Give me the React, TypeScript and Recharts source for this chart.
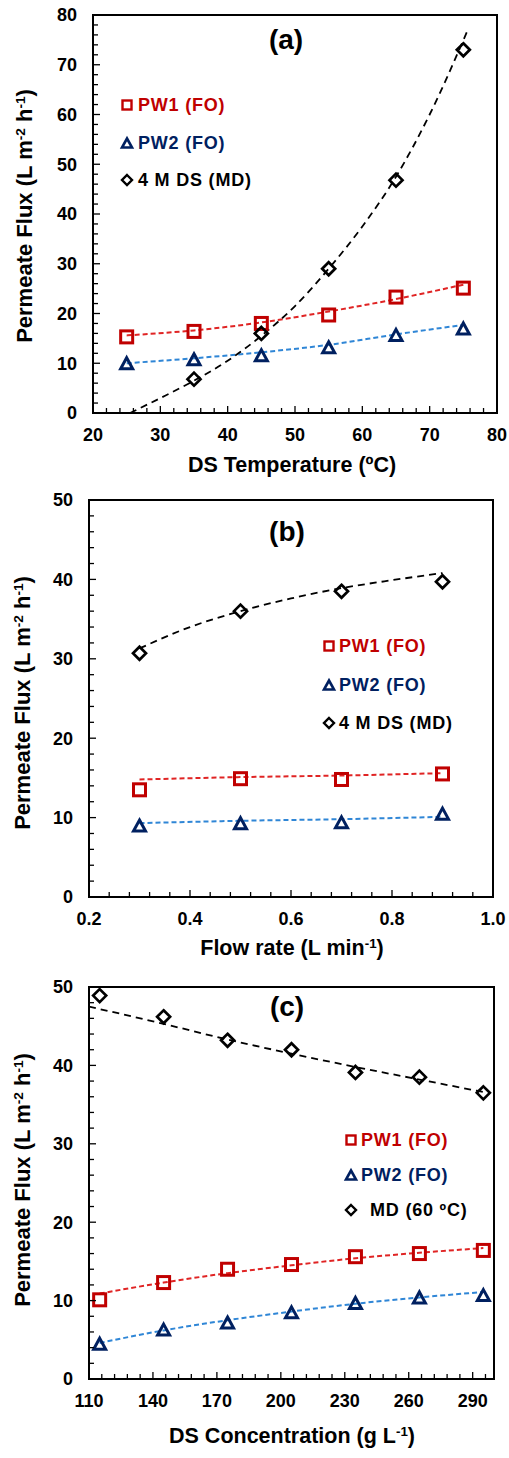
import React from 'react'
import {
  ComposedChart, Line, Scatter, XAxis, YAxis, ReferenceArea,
} from 'recharts'

// panel (a): DS temperature
const tempX = [25, 35, 45, 55, 65, 75]
const tempPW1 = [15.3, 16.4, 18.0, 19.7, 23.3, 25.1]
const tempPW2 = [10.0, 10.8, 11.6, 13.2, 15.7, 17.0]
const tempMDX = [35, 45, 55, 65, 75]
const tempMD = [6.8, 16.0, 29.0, 46.8, 73.0]
const tempFitPW1 = [15.6, 16.6, 18.2, 20.4, 22.9, 25.8]
const tempFitPW2 = [10.0, 11.0, 12.2, 13.7, 15.8, 17.7]
const tempFitMDX = [25.5, 30, 35, 40, 45, 50, 55, 60, 65, 70, 75.5]
const tempFitMD = [0, 3, 6.5, 10.5, 15.5, 21.5, 29, 37.5, 47.5, 60, 76.5]
const tempXTicks = [20, 30, 40, 50, 60, 70, 80]
const tempYTicks = [0, 10, 20, 30, 40, 50, 60, 70, 80]

// panel (b): flow rate
const flowX = [0.3, 0.5, 0.7, 0.9]
const flowPW1 = [13.5, 14.9, 14.8, 15.5]
const flowPW2 = [9.0, 9.3, 9.4, 10.5]
const flowMD = [30.7, 36.0, 38.5, 39.7]
const flowFitPW1 = [14.8, 15.1, 15.3, 15.6]
const flowFitPW2 = [9.3, 9.6, 9.8, 10.1]
const flowFitMDX = [0.3, 0.4, 0.5, 0.6, 0.7, 0.8, 0.9]
const flowFitMD = [31.3, 34.0, 36.0, 37.6, 38.9, 39.9, 40.8]
const flowXTicks = [0.2, 0.4, 0.6, 0.8, 1.0]
const flowYTicks = [0, 10, 20, 30, 40, 50]

// panel (c): DS concentration
const concX = [115, 145, 175, 205, 235, 265, 295]
const concPW1 = [10.1, 12.3, 14.0, 14.6, 15.6, 16.0, 16.4]
const concPW2 = [4.5, 6.3, 7.2, 8.5, 9.7, 10.4, 10.7]
const concMD = [48.9, 46.2, 43.2, 42.0, 39.1, 38.5, 36.5]
const concFitPW1 = [10.9, 12.3, 13.5, 14.5, 15.4, 16.1, 16.7]
const concFitPW2 = [4.6, 6.2, 7.5, 8.6, 9.6, 10.4, 11.1]
const concFitMDX = [110, 145, 175, 205, 235, 265, 295]
const concFitMD = [47.5, 45.3, 43.3, 41.5, 39.8, 38.2, 36.6]
const concXTicks = [110, 140, 170, 200, 230, 260, 290]
const concYTicks = [0, 10, 20, 30, 40, 50]

const RED = '#C00000'
const NAVY = '#002060'
const RED_FIT = '#E02424'
const BLUE_FIT = '#2F86D6'
const FONT = 'Arial, "Liberation Sans", sans-serif'

type Pt = { x: number; y: number }
const pts = (xs: number[], ys: number[]): Pt[] => xs.map((x, i) => ({ x, y: ys[i] }))

// minor ticks: 5 intervals per major step, across the whole domain
function withMinor(majors: number[], max: number) {
  const step = (majors[1] - majors[0]) / 5
  const out: number[] = []
  for (let v = majors[0]; v <= max + 1e-9; v += step) out.push(Math.round(v * 1000) / 1000)
  return out
}

function SquareMark({ cx, cy, s = 12, sw = 3 }: any) {
  return <rect x={cx - s / 2} y={cy - s / 2} width={s} height={s} fill="none" stroke={RED} strokeWidth={sw} />
}
function TriMark({ cx, cy, w = 12, h = 11, sw = 3 }: any) {
  const d = `M${cx},${cy - h / 2} L${cx + w / 2},${cy + h / 2} L${cx - w / 2},${cy + h / 2} Z`
  return <path d={d} fill="none" stroke={NAVY} strokeWidth={sw} strokeLinejoin="miter" />
}
function DiamondMark({ cx, cy, r = 6.5, sw = 2.7 }: any) {
  const d = `M${cx},${cy - r} L${cx + r},${cy} L${cx},${cy + r} L${cx - r},${cy} Z`
  return <path d={d} fill="none" stroke="#000" strokeWidth={sw} />
}

function xTick(majors: number[], fmt: (v: number) => string) {
  return (p: any) => {
    const v = p.payload.value
    const major = majors.some(m => Math.abs(m - v) < 1e-6)
    return (
      <g>
        <line x1={p.x} x2={p.x} y1={p.y} y2={p.y - (major ? 7 : 5)} stroke="#000" strokeWidth={1.3} />
        {major && (
          <text x={p.x} y={p.y + 22} dy="0.35em" textAnchor="middle" fontSize={18} fontWeight="bold" fontFamily={FONT} fill="#000">
            {fmt(v)}
          </text>
        )}
      </g>
    )
  }
}
function yTick(majors: number[]) {
  return (p: any) => {
    const v = p.payload.value
    const major = majors.some(m => Math.abs(m - v) < 1e-6)
    return (
      <g>
        <line x1={p.x} x2={p.x + (major ? 7 : 5)} y1={p.y} y2={p.y} stroke="#000" strokeWidth={1.3} />
        {major && (
          <text x={p.x - 16} y={p.y} dy="0.35em" textAnchor="end" fontSize={18} fontWeight="bold" fontFamily={FONT} fill="#000">
            {v}
          </text>
        )}
      </g>
    )
  }
}

const textBase: React.CSSProperties = {
  position: 'absolute', fontFamily: FONT, fontWeight: 'bold', whiteSpace: 'nowrap', color: '#000',
}
const sup: React.CSSProperties = { fontSize: '0.62em', verticalAlign: '0.55em', lineHeight: 0 }

function Centered({ x, y, size, rotate, children }: any) {
  return (
    <div style={{ ...textBase, left: x, top: y, fontSize: size, lineHeight: 1, transform: `translate(-50%,-50%)${rotate ? ' rotate(-90deg)' : ''}` }}>
      {children}
    </div>
  )
}

function LegendRow({ cx, cy, textX, color, marker, children }: any) {
  return (
    <>
      <svg width={16} height={16} style={{ position: 'absolute', left: cx - 8, top: cy - 8 }}>
        {marker === 'square' && <SquareMark cx={8} cy={8} s={9} sw={2.4} />}
        {marker === 'tri' && <TriMark cx={8} cy={8} w={10} h={9} sw={2.6} />}
        {marker === 'diamond' && <DiamondMark cx={8} cy={8} r={5} sw={2.4} />}
      </svg>
      <div style={{ ...textBase, left: textX, top: cy, transform: 'translateY(-50%)', fontSize: 18, letterSpacing: 0.8, color, lineHeight: 1 }}>
        {children}
      </div>
    </>
  )
}

interface PanelProps {
  top: number; height: number; left: number; right: number
  xDomain: [number, number]; xMajors: number[]; xFmt: (v: number) => string
  yDomain: [number, number]; yMajors: number[]
  pw1: Pt[]; pw2: Pt[]; md: Pt[]; fitPW1: Pt[]; fitPW2: Pt[]; fitMD: Pt[]
}

function Panel(p: PanelProps) {
  const xTicks = withMinor(p.xMajors, p.xDomain[1])
  const yTicks = withMinor(p.yMajors, p.yDomain[1])
  return (
    <div style={{ position: 'absolute', left: 0, top: p.top }}>
      <ComposedChart width={509} height={p.height} margin={{ top: 15, right: p.right, bottom: 0, left: 0 }}>
        <XAxis
          dataKey="x" type="number" domain={p.xDomain} allowDataOverflow ticks={xTicks} interval={0}
          height={50} tickSize={0} tickMargin={0} tickLine={false}
          axisLine={{ stroke: '#000', strokeWidth: 2 }} tick={xTick(p.xMajors, p.xFmt)}
        />
        <YAxis
          type="number" domain={p.yDomain} allowDataOverflow ticks={yTicks} interval={0}
          width={p.left} tickSize={0} tickMargin={0} tickLine={false}
          axisLine={{ stroke: '#000', strokeWidth: 2 }} tick={yTick(p.yMajors)}
        />
        <ReferenceArea x1={p.xDomain[0]} x2={p.xDomain[1]} y1={p.yDomain[0]} y2={p.yDomain[1]} fill="none" stroke="#000" strokeWidth={2} ifOverflow="visible" />
        <Line data={p.fitPW1} dataKey="y" type="monotone" stroke={RED_FIT} strokeWidth={2} strokeDasharray="5 3" dot={false} isAnimationActive={false} />
        <Line data={p.fitPW2} dataKey="y" type="monotone" stroke={BLUE_FIT} strokeWidth={2} strokeDasharray="5 3" dot={false} isAnimationActive={false} />
        <Line data={p.fitMD} dataKey="y" type="monotone" stroke="#000" strokeWidth={1.8} strokeDasharray="7 5" dot={false} isAnimationActive={false} />
        <Scatter data={p.pw1} dataKey="y" shape={(s: any) => <SquareMark cx={s.cx} cy={s.cy} />} isAnimationActive={false} />
        <Scatter data={p.pw2} dataKey="y" shape={(s: any) => <TriMark cx={s.cx} cy={s.cy} />} isAnimationActive={false} />
        <Scatter data={p.md} dataKey="y" shape={(s: any) => <DiamondMark cx={s.cx} cy={s.cy} />} isAnimationActive={false} />
      </ComposedChart>
    </div>
  )
}

const fluxLabel = (
  <>Permeate Flux (L m<span style={sup}>-2</span> h<span style={sup}>-1</span>)</>
)

export default function App() {
  const intFmt = (v: number) => String(v)
  return (
    <div style={{ position: 'absolute', left: 0, top: 0, width: 509, height: 1458, background: '#fff', overflow: 'hidden' }}>
      <Panel
        top={0} height={463} left={93} right={12}
        xDomain={[20, 80]} xMajors={tempXTicks} xFmt={intFmt}
        yDomain={[0, 80]} yMajors={tempYTicks}
        pw1={pts(tempX, tempPW1)} pw2={pts(tempX, tempPW2)} md={pts(tempMDX, tempMD)}
        fitPW1={pts(tempX, tempFitPW1)} fitPW2={pts(tempX, tempFitPW2)} fitMD={pts(tempFitMDX, tempFitMD)}
      />
      <Panel
        top={485} height={462} left={89} right={16}
        xDomain={[0.2, 1.0]} xMajors={flowXTicks} xFmt={v => v.toFixed(1)}
        yDomain={[0, 50]} yMajors={flowYTicks}
        pw1={pts(flowX, flowPW1)} pw2={pts(flowX, flowPW2)} md={pts(flowX, flowMD)}
        fitPW1={pts(flowX, flowFitPW1)} fitPW2={pts(flowX, flowFitPW2)} fitMD={pts(flowFitMDX, flowFitMD)}
      />
      <Panel
        top={972} height={457} left={89} right={15}
        xDomain={[110, 300]} xMajors={concXTicks} xFmt={intFmt}
        yDomain={[0, 50]} yMajors={concYTicks}
        pw1={pts(concX, concPW1)} pw2={pts(concX, concPW2)} md={pts(concX, concMD)}
        fitPW1={pts(concX, concFitPW1)} fitPW2={pts(concX, concFitPW2)} fitMD={pts(concFitMDX, concFitMD)}
      />

      <Centered x={286} y={40} size={28}>(a)</Centered>
      <Centered x={287} y={532} size={28}>(b)</Centered>
      <Centered x={287} y={1007} size={28}>(c)</Centered>

      <Centered x={25} y={216} size={22} rotate>{fluxLabel}</Centered>
      <Centered x={23} y={703} size={22} rotate>{fluxLabel}</Centered>
      <Centered x={23} y={1180} size={22} rotate>{fluxLabel}</Centered>

      <Centered x={292} y={466} size={21.5}>DS Temperature (ºC)</Centered>
      <Centered x={292} y={949} size={21.5}>Flow rate (L min<span style={sup}>-1</span>)</Centered>
      <Centered x={292} y={1437} size={21.5}>DS Concentration (g L<span style={sup}>-1</span>)</Centered>

      <LegendRow cx={127} cy={105} textX={138} color={RED} marker="square">PW1 (FO)</LegendRow>
      <LegendRow cx={127} cy={143} textX={138} color={NAVY} marker="tri">PW2 (FO)</LegendRow>
      <LegendRow cx={127} cy={180} textX={138} color="#000" marker="diamond">4 M DS (MD)</LegendRow>

      <LegendRow cx={329} cy={646} textX={339} color={RED} marker="square">PW1 (FO)</LegendRow>
      <LegendRow cx={329} cy={685} textX={339} color={NAVY} marker="tri">PW2 (FO)</LegendRow>
      <LegendRow cx={329} cy={723} textX={339} color="#000" marker="diamond">4 M DS (MD)</LegendRow>

      <LegendRow cx={351} cy={1140} textX={361} color={RED} marker="square">PW1 (FO)</LegendRow>
      <LegendRow cx={351} cy={1175} textX={361} color={NAVY} marker="tri">PW2 (FO)</LegendRow>
      <LegendRow cx={351} cy={1210} textX={370} color="#000" marker="diamond">MD (60 ºC)</LegendRow>
    </div>
  )
}
